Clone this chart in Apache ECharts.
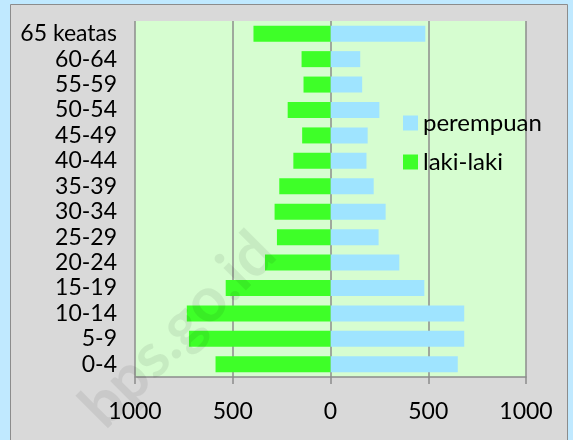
<!DOCTYPE html>
<html>
<head>
<meta charset="utf-8">
<script src="https://cdn.jsdelivr.net/npm/echarts@6/dist/echarts.min.js"></script>
<style>
  html, body { margin: 0; padding: 0; background: #c0e9ff; }
  #main { width: 573px; height: 440px; }
</style>
</head>
<body>
<div id="main"></div>
<script>
var kelompokUmur = ['0-4', '5-9', '10-14', '15-19', '20-24', '25-29', '30-34',
    '35-39', '40-44', '45-49', '50-54', '55-59', '60-64', '65 keatas'];
var lakiLaki = [588, 724, 735, 536, 335, 274, 286, 262, 190, 145, 219, 138, 148, 394];
var perempuan = [651, 684, 684, 480, 352, 246, 282, 221, 184, 190, 250, 162, 152, 485];

var huruf = 'Lato';
var myChart = echarts.init(document.getElementById('main'));

var option = {
    backgroundColor: '#c0e9ff',
    textStyle: { fontFamily: huruf },
    graphic: [
        {
            type: 'rect', z: -10,
            shape: { x: 10.5, y: 4.5, width: 557, height: 450 },
            style: { fill: '#d9d9d9', stroke: '#8c8c8c', lineWidth: 1 }
        },
        {
            type: 'text', z: 100,
            x: 178, y: 330, rotation: Math.PI / 4,
            style: {
                text: 'bps.go.id', fill: 'rgba(0,0,0,0.07)',
                font: 'bold 62px ' + huruf, align: 'center', verticalAlign: 'middle'
            }
        }
    ],
    legend: {
        orient: 'vertical',
        left: 398,
        top: 106,
        itemWidth: 15,
        itemHeight: 15,
        itemGap: 15,
        icon: 'rect',
        data: ['perempuan', 'laki-laki'],
        textStyle: { fontSize: 24, lineHeight: 16, color: '#000', fontFamily: huruf }
    },
    grid: {
        left: 135, right: 47, top: 21, bottom: 63,
        show: true, backgroundColor: '#d6fdd0', borderWidth: 0
    },
    xAxis: {
        type: 'value',
        min: -1000, max: 1000, interval: 500,
        axisLine: { show: true, lineStyle: { color: '#8c8c8c', width: 1.5 } },
        axisTick: { show: true, length: 7, lineStyle: { color: '#8c8c8c', width: 1.5 } },
        splitLine: { show: true, lineStyle: { color: '#8c8c8c', width: 1.5 } },
        axisLabel: {
            margin: 23, fontSize: 23, color: '#000', fontFamily: huruf,
            formatter: function (v) { return Math.abs(v); }
        }
    },
    yAxis: {
        type: 'category',
        data: kelompokUmur,
        axisLine: { show: false },
        axisTick: { show: false },
        splitLine: { show: false },
        axisLabel: {
            interval: 0, hideOverlap: false, margin: 18,
            fontSize: 23, lineHeight: 20, color: '#000', fontFamily: huruf
        }
    },
    series: [
        {
            name: 'perempuan',
            type: 'bar',
            data: perempuan,
            barCategoryGap: '37%',
            barGap: '-100%',
            itemStyle: { color: '#9fe4ff' }
        },
        {
            name: 'laki-laki',
            type: 'bar',
            data: lakiLaki.map(function (v) { return -v; }),
            barCategoryGap: '37%',
            barGap: '-100%',
            itemStyle: { color: '#3eff28' }
        }
    ]
};
myChart.setOption(option);
</script>
</body>
</html>
